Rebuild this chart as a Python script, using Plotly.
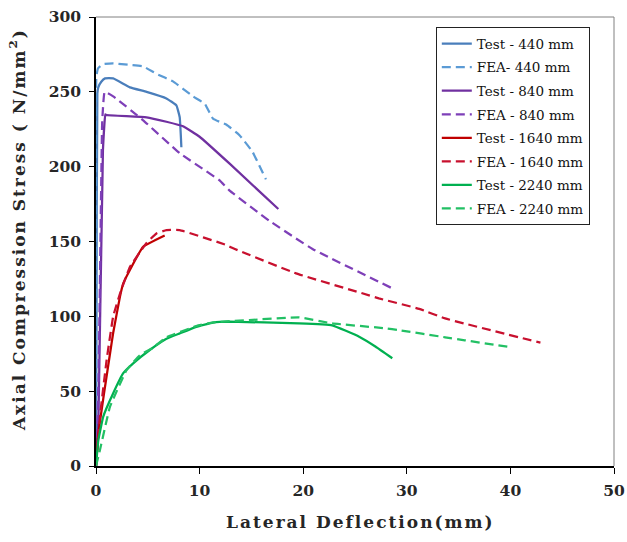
import plotly.graph_objects as go

# ---- data (Lateral deflection mm, Axial compression stress N/mm^2) ----
test440_x = [0, 0.05, 0.13, 0.22, 0.51, 0.87, 1.66, 3.27, 4.88, 6.8, 7.76, 8.08, 8.24]
test440_y = [0, 100, 249, 253, 256.7, 259, 259, 253, 250, 245.6, 241, 233, 213]

fea440_x = [0, 0.02, 0.03, 0.19, 0.67, 1.66, 3.27, 4.55, 5.84, 7.43, 9.36, 10.5, 11.3, 12.6, 13.85, 15.1, 16.4]
fea440_y = [0, 150, 260, 265.6, 268.5, 269, 268, 267, 262, 257, 247, 242, 232, 228, 221, 210, 191.5]

test840_x = [0, 0.24, 0.67, 0.9, 1.0, 4.88, 6.8, 8.4, 10.0, 12.9, 17.6]
test840_y = [0, 33, 211, 235, 234.5, 233, 230, 227, 220, 202, 171.7]

fea840_x = [0, 0.25, 0.45, 0.6, 0.84, 1.66, 4.55, 8.08, 11.9, 12.9, 16.7, 20.9, 28.6]
fea840_y = [0, 60, 160, 230, 250, 247, 231, 209, 191, 184, 164, 145, 118.7]

test1640_x = [0, 0.22, 1.35, 1.66, 2.31, 2.63, 3.27, 4.55, 6.63]
test1640_y = [0, 22, 75, 89, 113, 122, 131, 146.5, 154]

fea1640_x = [0, 0.07, 0.38, 1.03, 1.66, 2.31, 3.27, 4.88, 5.84, 6.8, 8.08, 12.6, 13.4, 19.3, 25.7, 27.3, 31.2, 33.7, 42.9]
fea1640_y = [0, 4, 33, 71, 100, 115, 133, 149, 155.4, 157.6, 157.6, 147.6, 145, 128.7, 115.4, 112, 105, 98.6, 82.4]

test2240_x = [0, 0.22, 0.7, 1.66, 2.63, 3.59, 5.19, 6.8, 8.08, 9.68, 11.3, 12.9, 19.6, 22.8, 25.4, 27.0, 28.6]
test2240_y = [0, 17, 33, 48.6, 62, 68.6, 77.5, 85, 88.6, 93, 95.8, 96.4, 95.3, 94, 86.4, 79.7, 72]

fea2240_x = [0, 0.38, 1.35, 2.95, 4.23, 5.5, 6.8, 9.68, 11.3, 14.8, 19.6, 22.8, 27.95, 29.2, 33.7, 35.6, 40.1]
fea2240_y = [0, 10.7, 39.6, 64, 74, 79, 86, 93.5, 96, 97.5, 99.3, 95.3, 92, 90.8, 86, 84, 79.3]

x_ticks = [0, 10, 20, 30, 40, 50]
y_ticks = [0, 50, 100, 150, 200, 250, 300]

series = [
    ("Test - 440 mm", test440_x, test440_y, "#4A7EBB", "solid"),
    ("FEA- 440 mm", fea440_x, fea440_y, "#5B9BD5", "dash"),
    ("Test - 840 mm", test840_x, test840_y, "#7030A0", "solid"),
    ("FEA - 840 mm", fea840_x, fea840_y, "#7E3FB8", "dash"),
    ("Test - 1640 mm", test1640_x, test1640_y, "#C00000", "solid"),
    ("FEA - 1640 mm", fea1640_x, fea1640_y, "#C8102E", "dash"),
    ("Test - 2240 mm", test2240_x, test2240_y, "#00B050", "solid"),
    ("FEA - 2240 mm", fea2240_x, fea2240_y, "#22C064", "dash"),
]

fig = go.Figure()
for i, (name, xs, ys, color, dash) in enumerate(series):
    fig.add_trace(go.Scatter(
        x=xs, y=ys, mode="lines", name=name, legendgroup=f"g{i}",
        line=dict(color=color, width=2.25,
                  dash=("9px,5px" if dash == "dash" else "solid"),
                  shape="spline", smoothing=0.3),
    ))

tick_font = dict(family="DejaVu Serif", size=15.5, color="#262626", weight="bold")
title_font = dict(family="DejaVu Serif", size=17, color="#262626", weight="bold")

fig.update_layout(
    width=627, height=542,
    margin=dict(l=96, r=13, t=17, b=76, autoexpand=False),
    paper_bgcolor="white", plot_bgcolor="white",
    showlegend=True,
    legend=dict(
        x=0.656, y=0.977, xanchor="left", yanchor="top",
        bgcolor="white", bordercolor="#222222", borderwidth=1,
        font=dict(family="DejaVu Serif", size=13.5, color="#111111"),
        tracegroupgap=3,
    ),
    xaxis=dict(
        range=[0, 50], tickvals=x_ticks, ticktext=[str(v) for v in x_ticks],
        showgrid=False, zeroline=False, automargin=False,
        showline=True, linecolor="black", linewidth=1.5,
        ticks="outside", ticklen=6, tickcolor="black",
        ticklabelstandoff=4,
        tickfont=tick_font,
    ),
    yaxis=dict(
        range=[0, 300], tickvals=y_ticks, ticktext=[str(v) for v in y_ticks],
        showgrid=False, zeroline=False, automargin=False,
        showline=True, linecolor="black", linewidth=1.5,
        ticks="outside", ticklen=5, tickcolor="black",
        ticklabelstandoff=5,
        tickfont=tick_font,
    ),
    shapes=[
        dict(type="line", xref="paper", yref="paper", x0=0, x1=1, y0=1, y1=1,
             line=dict(color="#808080", width=1)),
        dict(type="line", xref="paper", yref="paper", x0=1, x1=1, y0=0, y1=1,
             line=dict(color="#808080", width=1)),
    ],
    annotations=[
        dict(text='<span style="letter-spacing:2px">Lateral Deflection(mm)</span>',
             xref="paper", yref="paper",
             x=0.51, y=-0.125, xanchor="center", yanchor="middle", showarrow=False,
             font=title_font),
        dict(text='<span style="letter-spacing:2px">Axial Compression Stress ( N/mm<sup>2</sup>)</span>',
             xref="paper", yref="paper",
             x=-0.152, y=0.526, xanchor="center", yanchor="middle", showarrow=False,
             textangle=-90, font=title_font),
    ],
)

fig.write_html("out.html", config={"displayModeBar": False},
               post_script="document.body.style.margin='0px';")
